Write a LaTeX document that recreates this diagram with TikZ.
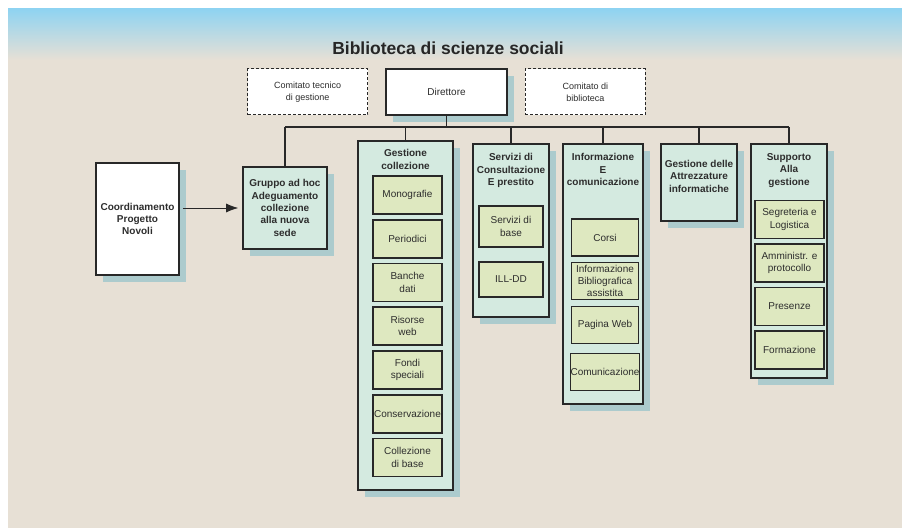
\documentclass[tikz,border=0pt]{standalone}
\usepackage{fontspec}
\setmainfont{Liberation Sans}
\usetikzlibrary{positioning,arrows.meta,shadows}

\definecolor{fondo}{RGB}{231,224,213}
\definecolor{cielo}{RGB}{143,211,241}
\definecolor{acqua}{RGB}{212,234,224}
\definecolor{verde}{RGB}{222,232,192}
\definecolor{ombra}{RGB}{158,198,203}
\definecolor{testo}{RGB}{45,45,45}
\definecolor{bordo}{RGB}{40,40,40}

\tikzset{
  base/.style={draw=bordo, line width=1.6pt, inner sep=1pt, inner xsep=0pt, align=center, text=testo,
    font=\fontsize{10}{12.3}\selectfont},
  ombreggiato/.style={drop shadow={shadow xshift=7pt, shadow yshift=-7pt, fill=ombra, opacity=.8}},
  comitato/.style={base, line width=1pt, dash pattern=on 3pt off 2pt, fill=white,
    minimum width=120pt, minimum height=46pt, font=\fontsize{9}{12}\selectfont},
  capo/.style={base, fill=white, ombreggiato},
  ufficio/.style={base, fill=acqua, ombreggiato, font=\fontsize{10}{12.3}\bfseries\selectfont},
  settore/.style={base, fill=acqua, ombreggiato},
  voce/.style={base, fill=verde, minimum height=38pt},
  intestazione/.style={inner sep=0pt, align=center, text=testo,
    font=\fontsize{10}{12.5}\bfseries\selectfont},
  linea/.style={draw=bordo, line width=1.6pt},
}

\begin{document}
\begin{tikzpicture}[x=1pt, y=-1pt]
\useasboundingbox (0,0) rectangle (902,529);

% sfondo
\fill[white] (0,0) rectangle (902,529);
\shade[top color=cielo, bottom color=fondo] (8,9) rectangle (902,60);
\fill[fondo] (8,60) rectangle (902,528);

\node[font=\fontsize{17.5}{20}\bfseries\selectfont, text=black!85] (titolo) at (448,48) {Biblioteca di scienze sociali};

% direzione
\node[capo, minimum width=121pt, minimum height=46pt] (dir) at (446.5,92) {Direttore};
\node[comitato, left=17pt of dir] (ctg) {Comitato tecnico\\di gestione};
\node[comitato, right=17pt of dir] (cdb) {Comitato di\\biblioteca};

\node[capo, minimum width=83pt, minimum height=112pt, font=\fontsize{10}{12.3}\bfseries\selectfont] (coord) at (137.5,219) {Coordinamento\\Progetto\\Novoli};
\node[ufficio, minimum width=84pt, minimum height=82pt] (gruppo) at (285,208) {Gruppo ad hoc\\Adeguamento\\collezione\\alla nuova\\sede};

% settori
\node[settore, minimum width=95pt, minimum height=349pt] (gescol) at (405.5,315.5) {};
\node[settore, minimum width=76pt, minimum height=173pt] (serv) at (511,230.5) {};
\node[settore, minimum width=80pt, minimum height=260pt] (info) at (603,274) {};
\node[ufficio, minimum width=76pt, minimum height=77pt] (attr) at (699,182.5) {Gestione delle\\Attrezzature\\informatiche\\\mbox{}};
\node[settore, minimum width=76pt, minimum height=234pt] (supp) at (789,261) {};

\node[intestazione, below=9pt of gescol.north] (gescolT) {Gestione\\collezione};
\node[intestazione, below=10pt of serv.north] (servT) {Servizi di\\Consultazione\\E prestito};
\node[intestazione, below=10pt of info.north] (infoT) {Informazione\\E\\comunicazione};
\node[intestazione, below=10pt of supp.north] (suppT) {Supporto\\Alla\\gestione};

\foreach \t [count=\i from 0] in {Monografie,Periodici,{Banche\\dati},{Risorse\\web},{Fondi\\speciali},Conservazione,{Collezione\\di base}}
  {\node[voce, minimum width=69pt] (gc\i) at (407.5,{195+43.75*\i}) {\t};}

\node[voce, minimum width=64pt, minimum height=41pt] (sc0) at (511,226.5) {Servizi di\\base};
\node[voce, minimum width=64pt, minimum height=35pt] (sc1) at (511,279.5) {ILL-DD};

\foreach \y/\t [count=\i from 0] in {237.5/Corsi,281/{Informazione\\Bibliografica\\assistita},325/Pagina Web,372/Comunicazione}
  {\node[voce, minimum width=67pt, minimum height=37pt] (ic\i) at (605,\y) {\t};}

\foreach \t [count=\i from 0] in {{Segreteria e\\Logistica},{Amministr. e\\protocollo},Presenze,Formazione}
  {\node[voce, minimum width=69pt] (su\i) at (789.5,{219.5+43.5*\i}) {\t};}

% collegamenti
\coordinate (bus) at (446.5,127);
\draw[linea] (gruppo |- bus) -- (supp |- bus);
\draw[linea] (dir) -- (dir |- bus);
\foreach \n in {gruppo,gescol,serv,info,attr,supp}
  {\draw[linea] (\n) -- (\n |- bus);}

\draw[draw=bordo, line width=0.8pt, -{Latex[length=12pt,width=9pt]}, shorten <=3pt, shorten >=4pt] (coord.east |- gruppo) -- (gruppo);

\end{tikzpicture}
\end{document}
